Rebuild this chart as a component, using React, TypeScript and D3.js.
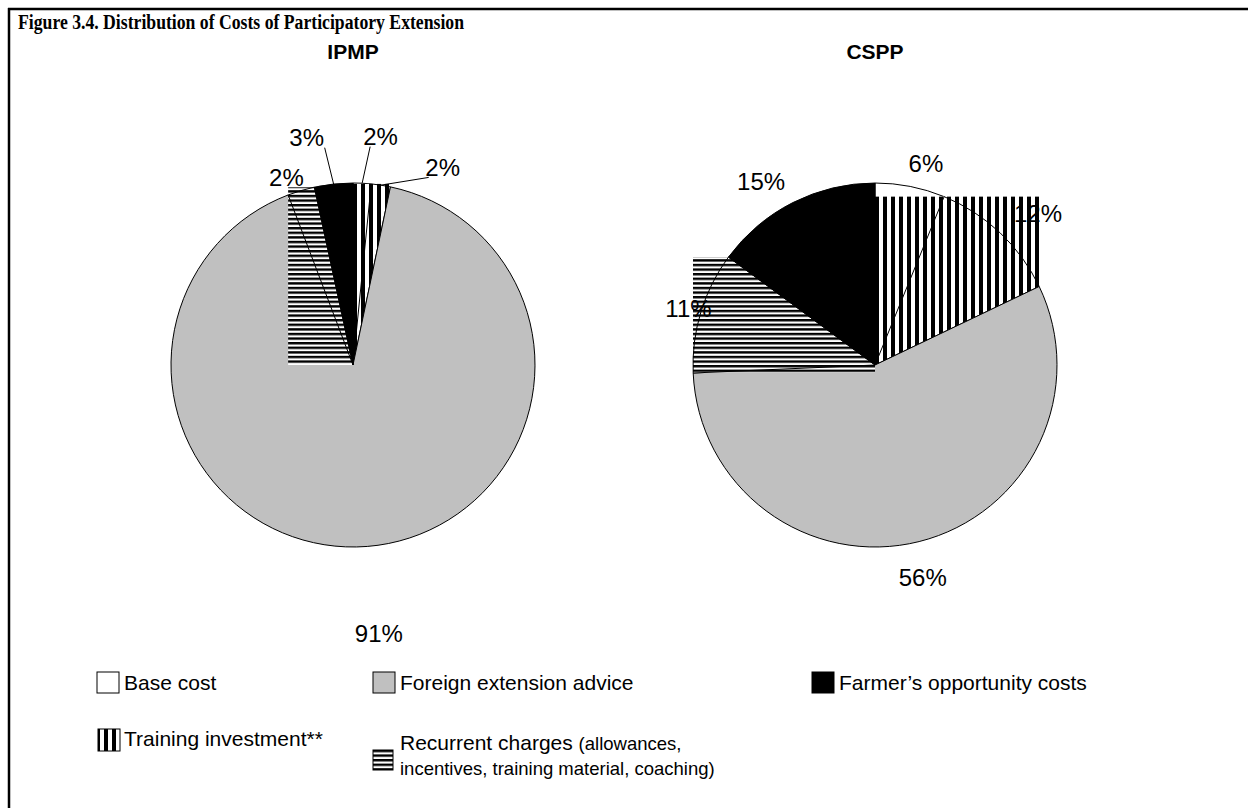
import React from "react";
import * as d3 from "d3";

const W = 1248;
const H = 808;

// slices, clockwise from 12 o'clock, same order for both pies
const sliceNames = [
  "Base cost",
  "Training investment",
  "Foreign extension advice",
  "Recurrent charges",
  "Farmer’s opportunity costs",
];
const sliceFills = ["#ffffff", "url(#vstripes)", "#c0c0c0", "url(#hstripes)", "#000000"];
const patterned = [false, true, false, true, false];

const pieTitles = ["IPMP", "CSPP"];
const ipmpValues = [1.6, 1.7, 90.9, 2.4, 3.4];
const csppValues = [6.2, 11.7, 56.4, 10.8, 14.9];

// label placement: distance from centre and angular nudge (deg)
const ipmpLabelLayout = [
  { dist: 230, turn: 4, leader: true },
  { dist: 217, turn: 15.6, leader: true },
  { dist: 270, turn: -1, leader: false },
  { dist: 199, turn: -3, leader: false },
  { dist: 232, turn: -5.4, leader: true },
];
const csppLabelLayout = [
  { dist: 208, turn: 3, leader: false },
  { dist: 223, turn: 3.6, leader: false },
  { dist: 218, turn: 1.4, leader: false },
  { dist: 195, turn: 0, leader: false },
  { dist: 216, turn: -5, leader: false },
];

const legendRow1 = ["Base cost", "Foreign extension advice", "Farmer’s opportunity costs"];
const legendRow1Fills = ["#ffffff", "#c0c0c0", "#000000"];
const legendRow2 = ["Training investment**", "Recurrent charges"];
const recurrentNote = ["(allowances,", "incentives, training material, coaching)"];

const R = 182;
const CY = 365;
const centers = d3.scalePoint<string>().domain(pieTitles).range([353, 875]);

const toXY = (a: number, r: number): [number, number] => [r * Math.sin(a), -r * Math.cos(a)];

// bounding box of a slice (centre included)
function sliceBox(a0: number, a1: number, r: number) {
  const pts: [number, number][] = [[0, 0], toXY(a0, r), toXY(a1, r)];
  for (let k = 0; k <= 4; k++) {
    const a = (k * Math.PI) / 2;
    if (a > a0 && a < a1) pts.push(toXY(a, r));
  }
  const xs = pts.map((p) => p[0]);
  const ys = pts.map((p) => p[1]);
  return { x0: d3.min(xs)!, x1: d3.max(xs)!, y0: d3.min(ys)!, y1: d3.max(ys)! };
}

const font = "'Liberation Sans', Arial, sans-serif";

const Pie = ({ title, values, layout }: { title: string; values: number[]; layout: any[] }) => {
  const cx = centers(title)!;
  const arcs = d3.pie<number>().sort(null).value((d) => d)(values);
  const arc = d3.arc<d3.PieArcDatum<number>>().innerRadius(0).outerRadius(R);
  return (
    <g>
      <text x={cx} y={59} textAnchor="middle" fontFamily={font} fontWeight="bold" fontSize={21}>
        {title}
      </text>
      <g transform={`translate(${cx},${CY})`}>
        {arcs.map((d, i) => {
          if (patterned[i]) {
            const b = sliceBox(d.startAngle, d.endAngle, R);
            return (
              <g key={i}>
                <rect x={b.x0} y={b.y0} width={b.x1 - b.x0} height={b.y1 - b.y0} fill={sliceFills[i]} />
                <path d={arc(d)!} fill="none" stroke="#000" strokeWidth={1} />
              </g>
            );
          }
          return <path key={i} d={arc(d)!} fill={sliceFills[i]} stroke="#000" strokeWidth={1} />;
        })}
        {arcs.map((d, i) => {
          const l = layout[i];
          const mid = (d.startAngle + d.endAngle) / 2;
          const [lx, ly] = toXY(mid + (l.turn * Math.PI) / 180, l.dist);
          const [ax, ay] = toXY(mid, R);
          const ex = Math.max(lx - 14, Math.min(lx + 18, ax + 8));
          const ey = Math.max(ly - 10, Math.min(ly + 10, ay));
          return (
            <g key={"l" + i}>
              {l.leader && <line x1={ex} y1={ey} x2={ax} y2={ay} stroke="#000" strokeWidth={1} />}
              <text x={lx} y={ly} dy="0.36em" textAnchor="middle" fontFamily={font} fontSize={24}>
                {Math.round(d.data)}%
              </text>
            </g>
          );
        })}
      </g>
    </g>
  );
};

export default function App() {
  const legendX = [97, 373, 812];
  return (
    <div style={{ position: "absolute", left: 0, top: 0 }}>
      <svg width={W} height={H} style={{ display: "block", background: "#fff" }}>
        <defs>
          <pattern id="vstripes" patternUnits="userSpaceOnUse" width={8} height={8}>
            <rect width={8} height={8} fill="#fff" />
            <rect width={4} height={8} fill="#000" />
          </pattern>
          <pattern id="hstripes" patternUnits="userSpaceOnUse" width={4.6} height={4.6}>
            <rect width={4.6} height={4.6} fill="#fff" />
            <rect width={4.6} height={2.4} fill="#000" />
          </pattern>
        </defs>
        <line x1={8} y1={9} x2={W} y2={9} stroke="#000" strokeWidth={2.5} />
        <line x1={9} y1={8} x2={9} y2={H} stroke="#000" strokeWidth={2.5} />
        <text
          x={18}
          y={29}
          fontFamily="'Liberation Serif', 'Times New Roman', serif"
          fontWeight="bold"
          fontSize={20}
          textLength={446}
          lengthAdjust="spacingAndGlyphs"
        >
          Figure 3.4. Distribution of Costs of Participatory Extension
        </text>

        <Pie title="IPMP" values={ipmpValues} layout={ipmpLabelLayout} />
        <Pie title="CSPP" values={csppValues} layout={csppLabelLayout} />

        {legendRow1.map((name, i) => (
          <g key={name}>
            <rect x={legendX[i]} y={672} width={22} height={21} fill={legendRow1Fills[i]} stroke="#000" strokeWidth={1} />
            <text x={legendX[i] + 27} y={690} fontFamily={font} fontSize={21}>
              {name}
            </text>
          </g>
        ))}
        <rect x={legendX[0] + 1} y={729} width={22} height={22} fill="url(#vstripes)" stroke="#000" strokeWidth={1} />
        <text x={legendX[0] + 27} y={746} fontFamily={font} fontSize={21}>
          {legendRow2[0]}
        </text>
        <rect x={legendX[1]} y={750} width={20} height={20} fill="url(#hstripes)" stroke="#000" strokeWidth={1} />
        <text x={legendX[1] + 27} y={750} fontFamily={font} fontSize={21}>
          {legendRow2[1]}{" "}
          <tspan fontSize={18.5}>{recurrentNote[0]}</tspan>
        </text>
        <text x={legendX[1] + 27} y={775} fontFamily={font} fontSize={18.5}>
          {recurrentNote[1]}
        </text>
      </svg>
    </div>
  );
}
